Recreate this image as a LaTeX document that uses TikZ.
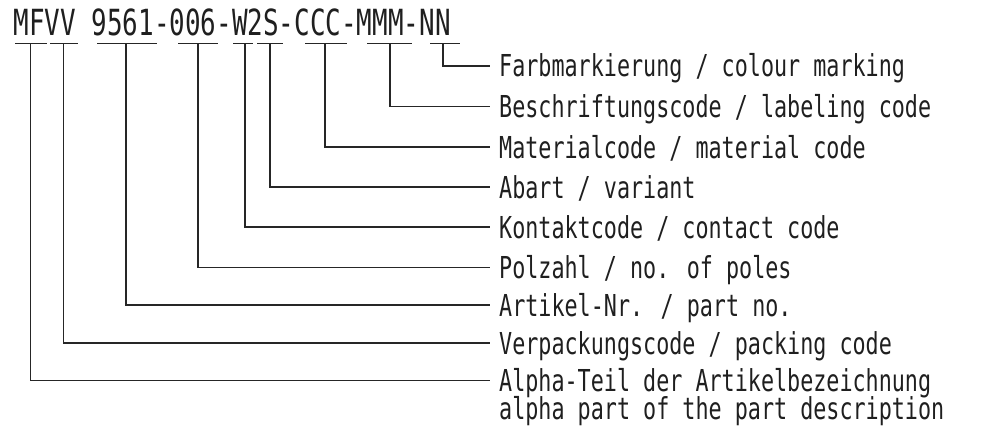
\documentclass[tikz,border=0pt]{standalone}
\usepackage{fontspec}
\newfontfamily\cadfont[FakeStretch=0.72]{DejaVu Sans Mono}
\begin{document}
\begin{tikzpicture}[x=1pt,y=-1pt,
  leader/.style={line width=1.1pt, black!85},
  uline/.style={line width=1.1pt, black!85},
  lbl/.style={anchor=base west, inner sep=0pt, text=black!88, font=\cadfont\fontsize{30.2}{28}\selectfont},
  codefont/.style={anchor=base west, inner sep=0pt, text=black!88, font=\cadfont\fontsize{36}{40}\selectfont}]
\useasboundingbox (0,0) rectangle (1001,428);
\node[codefont] (code) at (13.5,35.5) {MFVV 9561-006-W2S-CCC-MMM-NN};
% underlines under the code groups
\foreach \a/\b/\n in {15/47/1, 50/78/2, 97/157/3, 178/218/4, 233/253/5, 257/283/6, 305/347/7, 367/412/8, 430/460/9}{
  \coordinate (ua\n) at (\a,43.3);
  \coordinate (ub\n) at (\b,43.3);
  \draw[uline] (ua\n) -- (ub\n);
}
% tap points, leader ends and labels
\foreach \x/\y/\n/\t in {
  443/66/9/{Farbmarkierung / colour marking},
  390/106.7/8/{Beschriftungscode / labeling code},
  325/147/7/{Materialcode / material code},
  270/187/6/{Abart / variant},
  245/227/5/{Kontaktcode / contact code},
  198/267.7/4/{Polzahl / no. of poles},
  126/305/3/{Artikel-Nr. / part no.},
  63.5/343/2/{Verpackungscode / packing code},
  30.7/380.7/1/{Alpha-Teil der Artikelbezeichnung}}{
  \coordinate (t\n) at (\x,43.3);
  \coordinate (e\n) at (490,\y);
  \node[lbl] (l\n) at (499,\y+11) {\t};
  \draw[leader] (t\n) |- (e\n);
}
\node[lbl] (l1b) at (499,380.7+11+28) {alpha part of the part description};
\end{tikzpicture}
\end{document}
